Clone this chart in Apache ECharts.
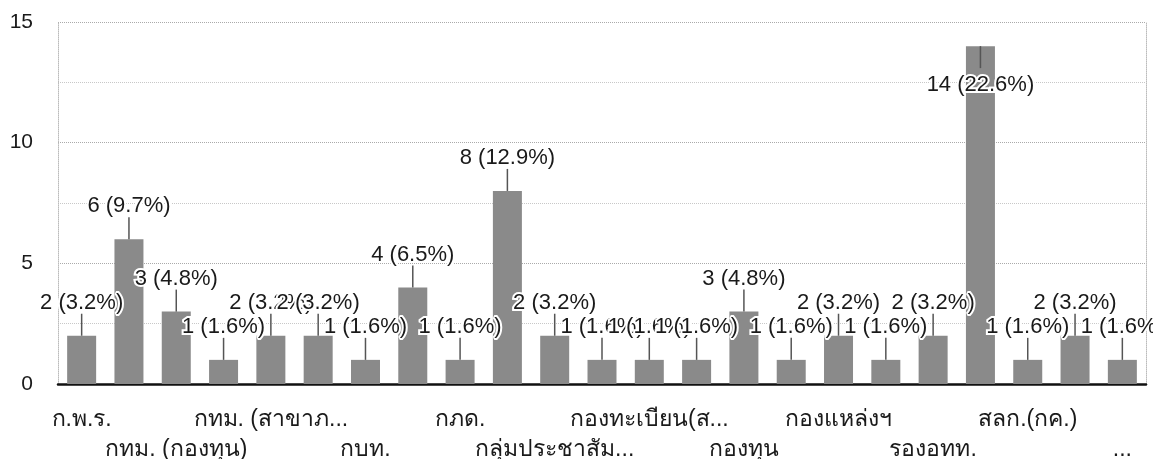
<!DOCTYPE html>
<html>
<head>
<meta charset="utf-8">
<script src="https://cdn.jsdelivr.net/npm/echarts@6/dist/echarts.min.js"></script>
<style>
html,body{margin:0;padding:0;background:#fff;}
#c{width:1153px;height:459px;}
</style>
</head>
<body>
<div id="c"></div>
<script>
// Categories (odd-index names are not shown in the reference and are unknown)
const categories = [
  'ก.พ.ร.', '', 'กทม. (กองทุน)', '', 'กทม. (สาขาภ...', '', 'กบท.', '',
  'กภด.', '', 'กลุ่มประชาสัม...', '', 'กองทะเบียน(ส...', '', 'กองทุน', '',
  'กองแหล่งฯ', '', 'รองอทท.', '', 'สลก.(กค.)', '', '...'
];
const counts = [2, 6, 3, 1, 2, 2, 1, 4, 1, 8, 2, 1, 1, 1, 3, 1, 2, 1, 2, 14, 1, 2, 1];
const percents = ['3.2', '9.7', '4.8', '1.6', '3.2', '3.2', '1.6', '6.5', '1.6', '12.9', '3.2', '1.6', '1.6', '1.6', '4.8', '1.6', '3.2', '1.6', '3.2', '22.6', '1.6', '3.2', '1.6'];
const yTicks = [0, 5, 10, 15];

const FONT = "'Liberation Sans', Arial, sans-serif";
const chart = echarts.init(document.getElementById('c'));
const yMax = yTicks[yTicks.length - 1];

function xLabel(margin, showIdx) {
  return {
    interval: function (i) { return showIdx(i); },
    showMinLabel: null,
    showMaxLabel: null,
    hideOverlap: false,
    margin: margin,
    fontSize: 23,
    color: '#1a1a1a',
    fontFamily: FONT
  };
}

chart.setOption({
  animation: false,
  backgroundColor: '#fff',
  grid: { left: 58, right: 7, top: 22, bottom: 75, containLabel: false, outerBoundsMode: 'none' },
  xAxis: [{
    type: 'category',
    data: categories,
    boundaryGap: true,
    axisLine: { show: true, lineStyle: { color: '#111', width: 2.5 } },
    axisTick: { show: false },
    axisLabel: xLabel(24, function (i) { return i % 4 === 0; }),
    splitLine: { show: false }
  }, {
    type: 'category',
    position: 'bottom',
    data: categories,
    boundaryGap: true,
    axisLine: { show: false },
    axisTick: { show: false },
    axisLabel: xLabel(54, function (i) { return i % 4 === 2; }),
    splitLine: { show: false }
  }],
  yAxis: [{
    type: 'value',
    min: 0,
    max: yMax,
    interval: 2.5,
    axisLine: { show: true, lineStyle: { color: '#bbb', type: 'dotted', width: 1 } },
    axisTick: { show: false },
    axisLabel: {
      margin: 25,
      fontSize: 21,
      color: '#1a1a1a',
      fontFamily: FONT,
      formatter: function (v) { return yTicks.indexOf(v) >= 0 ? String(v) : ''; }
    },
    splitLine: { show: true, lineStyle: { color: ['#aaa', '#c8c8c8'], type: 'dotted', width: 1 } }
  }, {
    type: 'value',
    position: 'right',
    min: 0,
    max: yMax,
    interval: 2.5,
    axisLine: { show: true, lineStyle: { color: '#bbb', type: 'dotted', width: 1 } },
    axisTick: { show: false },
    axisLabel: { show: false },
    splitLine: { show: false }
  }],
  series: [{
    type: 'bar',
    data: counts,
    barWidth: 29,
    itemStyle: { color: '#8a8a8a' },
    z: 2
  }, {
    type: 'custom',
    z: 3,
    data: counts.map(function (v, i) { return [i, v]; }),
    renderItem: function (params, api) {
      const i = api.value(0);
      const v = api.value(1);
      const p = api.coord([i, v]);
      const inside = (yMax - v) < 2;
      const stem = 22;
      const text = v + ' (' + percents[i] + '%)';
      let y1, ty, vAlign;
      if (inside) {
        y1 = p[1] + stem;
        ty = p[1] + stem + 6;
        vAlign = 'top';
      } else {
        y1 = p[1] - stem;
        ty = p[1] - stem;
        vAlign = 'bottom';
      }
      return {
        type: 'group',
        children: [{
          type: 'line',
          shape: { x1: p[0], y1: p[1], x2: p[0], y2: y1 },
          style: { stroke: '#555', lineWidth: 1.5 }
        }, {
          type: 'text',
          x: p[0],
          y: ty,
          style: {
            text: text,
            fill: '#1a1a1a',
            font: '22px ' + FONT,
            align: 'center',
            verticalAlign: vAlign,
            stroke: '#fff',
            lineWidth: 4
          }
        }]
      };
    }
  }]
});
</script>
</body>
</html>
